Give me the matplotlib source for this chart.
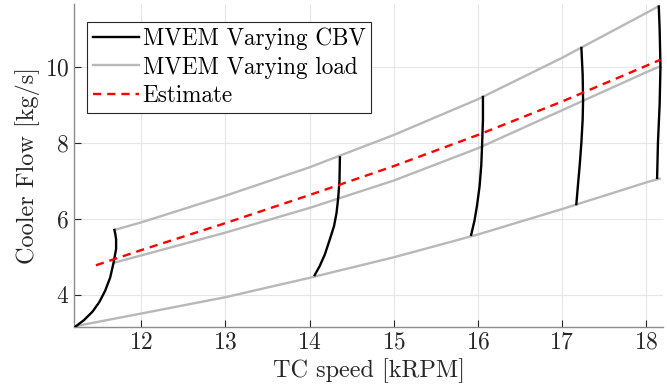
import matplotlib
matplotlib.use('Agg')
import matplotlib.pyplot as plt
import numpy as np

plt.rcParams['font.family'] = 'serif'
plt.rcParams['font.serif'] = ['cmr10']
plt.rcParams['mathtext.fontset'] = 'cm'
plt.rcParams['axes.formatter.use_mathtext'] = True

# MVEM varying CBV (black), one sweep per speed
cbv_x = [
    [11.22, 11.32, 11.42, 11.50, 11.57, 11.63, 11.67, 11.70, 11.70, 11.69, 11.68],
    [14.06, 14.12, 14.18, 14.24, 14.29, 14.32, 14.34, 14.355, 14.36],
    [15.92, 15.96, 15.99, 16.02, 16.04, 16.05, 16.06, 16.06],
    [17.17, 17.19, 17.21, 17.23, 17.245, 17.25, 17.245, 17.23],
    [18.13, 18.14, 18.16, 18.17, 18.16, 18.15],
]
cbv_y = [
    [3.16, 3.33, 3.55, 3.80, 4.10, 4.45, 4.84, 5.20, 5.45, 5.60, 5.70],
    [4.51, 4.75, 5.05, 5.45, 5.80, 6.15, 6.55, 7.00, 7.61],
    [5.57, 5.95, 6.35, 6.85, 7.40, 7.94, 8.60, 9.20],
    [6.38, 6.90, 7.40, 8.00, 8.60, 9.10, 9.80, 10.49],
    [7.07, 8.00, 9.00, 10.00, 11.00, 11.58],
]

# MVEM varying load (gray)
load_x = [
    [11.20, 12.0, 13.0, 14.0, 15.0, 16.0, 17.0, 18.0, 18.16],
    [11.68, 12.0, 13.0, 14.0, 15.0, 16.0, 17.0, 18.0, 18.16],
    [11.68, 12.0, 13.0, 14.0, 15.0, 16.0, 17.0, 18.0, 18.15],
]
load_y = [
    [3.16, 3.50, 3.93, 4.44, 4.98, 5.58, 6.25, 6.95, 7.05],
    [4.84, 5.03, 5.63, 6.28, 7.00, 7.85, 8.85, 9.85, 10.00],
    [5.70, 5.90, 6.60, 7.35, 8.20, 9.14, 10.23, 11.41, 11.59],
]

# Estimate (red dashed)
est_x = [11.46, 12.0, 13.0, 14.0, 15.0, 16.0, 17.0, 18.0, 18.17]
est_y = [4.77, 5.17, 5.88, 6.62, 7.38, 8.20, 9.08, 10.02, 10.18]

fig = plt.figure(figsize=(6.67, 3.9), dpi=100)
ax = fig.add_axes([0.111, 0.162, 0.883, 0.828])

for i in range(len(cbv_x)):
    ax.plot(cbv_x[i], cbv_y[i], color='black', lw=1.7,
            label='MVEM Varying CBV' if i == 0 else None, zorder=3)
for i in range(len(load_x)):
    ax.plot(load_x[i], load_y[i], color=(0.72, 0.72, 0.72), lw=1.7,
            label='MVEM Varying load' if i == 0 else None, zorder=2)
ax.plot(est_x, est_y, '--', color='red', lw=1.7, dashes=(3.5, 2.5),
        label='Estimate', zorder=4)

ax.set_xlim(11.2, 18.2)
ax.set_ylim(3.15, 11.65)
ax.set_xticks([12, 13, 14, 15, 16, 17, 18])
ax.set_yticks([4, 6, 8, 10])
ax.grid(True, color='#e6e6e6', lw=0.8)
ax.set_axisbelow(True)
for s in ['top', 'right']:
    ax.spines[s].set_visible(False)
for s in ['left', 'bottom']:
    ax.spines[s].set_color('#8c8c8c')
    ax.spines[s].set_linewidth(1.0)
ax.tick_params(direction='in', length=5, color='#262626', labelsize=17, labelcolor='#262626')
ax.set_xlabel('TC speed [kRPM]', fontsize=17.5, color='#262626', labelpad=3)
ax.set_ylabel('Cooler Flow [kg/s]', fontsize=17.5, color='#262626', labelpad=3)

leg = ax.legend(loc='upper left', bbox_to_anchor=(0.022, 0.945), borderaxespad=0,
                fontsize=16.7, fancybox=False, edgecolor='#262626', framealpha=1,
                handlelength=2.0, handletextpad=0.15, labelspacing=0.28, borderpad=0.25)
leg.get_frame().set_linewidth(0.8)

fig.savefig('out.png', dpi=100)
